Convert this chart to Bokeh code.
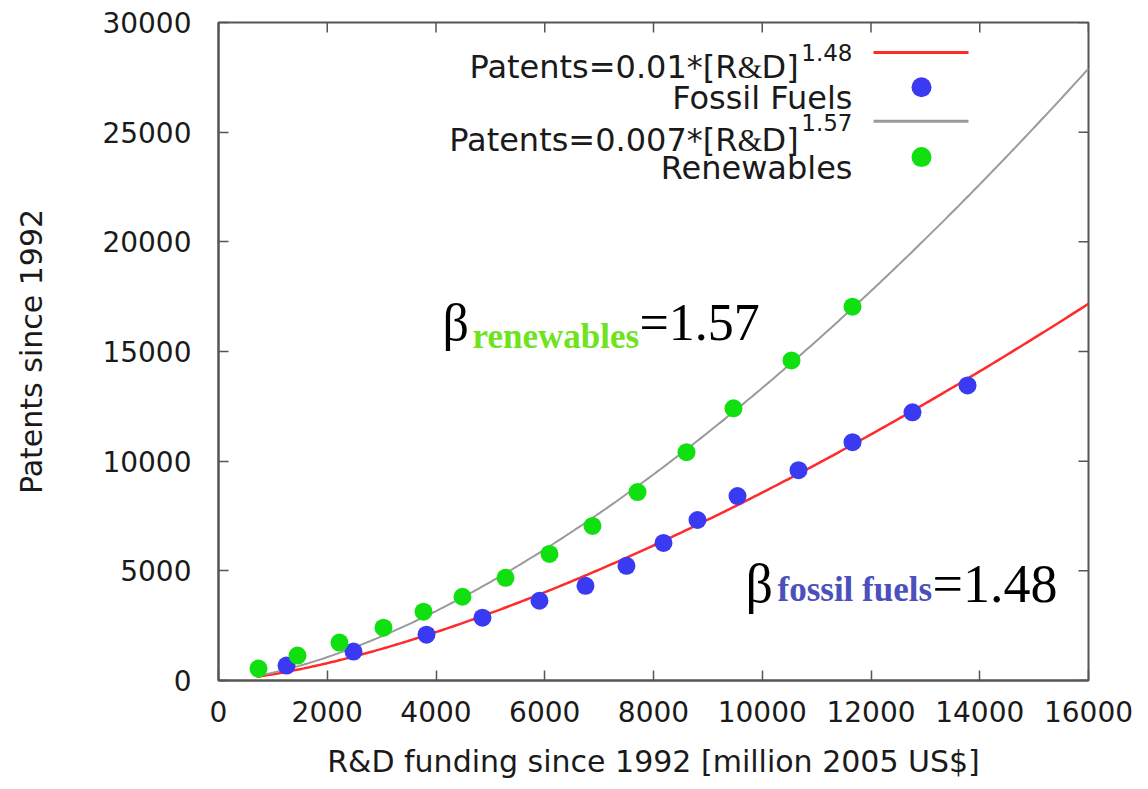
import numpy as np
from bokeh.plotting import figure
from bokeh.models import Range1d, FixedTicker, Label
from bokeh.embed import file_html
from bokeh.resources import INLINE

# ---------------- data ----------------
fossil_x = [1251, 2483, 3825, 4855, 5903, 6749, 7503, 8184, 8809, 9545, 10667, 11660, 12763, 13775]
fossil_y = [682, 1318, 2091, 2864, 3636, 4318, 5227, 6273, 7318, 8409, 9591, 10864, 12227, 13455]
renew_x = [736, 1453, 2225, 3034, 3770, 4487, 5278, 6087, 6878, 7706, 8607, 9471, 10538, 11660]
renew_y = [545, 1136, 1727, 2409, 3136, 3818, 4682, 5773, 7045, 8591, 10409, 12409, 14591, 17045]

# power-law fits (legend shows rounded values): Patents = a * [R&D]^b
fossil_a, fossil_b = 0.0103, 1.48
renew_a, renew_b = 0.007, 1.57
fit_start, fit_end = 700, 16000

x_ticks = [0, 2000, 4000, 6000, 8000, 10000, 12000, 14000, 16000]
y_ticks = [0, 5000, 10000, 15000, 20000, 25000, 30000]
x_min, x_max = 0, 16000
y_min, y_max = 0, 30000

# ---------------- layout helpers (picture pixels -> data) ----------------
W, H = 1140, 781
FL, FR, FT, FB = 218, 1088, 22, 682   # frame edges in the picture


def X(px):
    return x_min + (px - FL) / (FR - FL) * (x_max - x_min)


def Y(py):
    return y_min + (FB - py) / (FB - FT) * (y_max - y_min)


p = figure(width=W, height=H,
           x_range=Range1d(x_min, x_max), y_range=Range1d(y_min, y_max),
           output_backend="svg", toolbar_location=None,
           min_border_left=FL, min_border_right=W - FR,
           min_border_top=FT, min_border_bottom=H - FB)
p.grid.visible = False
frame_col = "#555555"
p.outline_line_color = frame_col
p.outline_line_width = 2
p.background_fill_color = "white"
p.border_fill_color = "white"

for ax in p.axis:
    ax.axis_line_color = frame_col
    ax.axis_line_width = 2
    ax.major_tick_line_color = frame_col
    ax.major_tick_line_width = 1.5
    ax.major_tick_in = 10
    ax.major_tick_out = 0
    ax.minor_tick_line_color = None
    ax.major_label_text_font = "DejaVu Sans"
    ax.major_label_text_font_size = "28px"
    ax.major_label_text_color = "#1a1a1a"
    ax.axis_label_text_font = "DejaVu Sans"
    ax.axis_label_text_font_size = "30px"
    ax.axis_label_text_font_style = "normal"
    ax.axis_label_text_color = "#1a1a1a"

p.xaxis.ticker = FixedTicker(ticks=x_ticks)
p.yaxis.ticker = FixedTicker(ticks=y_ticks)

p.xaxis.major_label_standoff = 20
p.xaxis.axis_label = "R&D funding since 1992 [million 2005 US$]"
p.xaxis.axis_label_standoff = 19

p.yaxis.major_label_standoff = 27
p.yaxis.axis_label = "Patents since 1992"
p.yaxis.axis_label_standoff = 50

# mirror ticks on the top and right frame edges
tick_len_x = 10 / (FR - FL) * (x_max - x_min)
tick_len_y = 10 / (FB - FT) * (y_max - y_min)
p.segment(x0=x_ticks, y0=[y_max] * len(x_ticks), x1=x_ticks, y1=[y_max - tick_len_y] * len(x_ticks),
          line_color=frame_col, line_width=1.5)
p.segment(x0=[x_max] * len(y_ticks), y0=y_ticks, x1=[x_max - tick_len_x] * len(y_ticks), y1=y_ticks,
          line_color=frame_col, line_width=1.5)

# ---------------- fit curves ----------------
fx = np.linspace(fit_start, fit_end, 300)
red = "#ff2a2a"
grey = "#9a9a9a"
p.line(fx, fossil_a * fx ** fossil_b, line_color=red, line_width=2.5)
p.line(fx, renew_a * fx ** renew_b, line_color=grey, line_width=2)

# ---------------- data points ----------------
blue = "#3a3af2"
green = "#10e010"
p.scatter(fossil_x, fossil_y, size=18, fill_color=blue, line_color=None)
p.scatter(renew_x, renew_y, size=18, fill_color=green, line_color=None)


def lab(text, px, py, size, font="DejaVu Sans", color="#1a1a1a", align="left", style="normal"):
    p.add_layout(Label(x=X(px), y=Y(py), text=text, text_font=font,
                       text_font_size=f"{size}px", text_color=color,
                       text_align=align, text_baseline="alphabetic",
                       text_font_style=style))


# ---------------- legend (manual, gnuplot style) ----------------
lg = 32
lab("Patents=0.01*[R", 737, 67, lg, align="right")
lab("&", 737, 67, lg, font="Liberation Serif")
lab("D]", 761, 67, lg)
lab("1.48", 852, 52, 23, align="right")
p.line([X(873), X(968)], [Y(52), Y(52)], line_color=red, line_width=3)

lab("Fossil Fuels", 852, 98, lg, align="right")
p.scatter([X(921)], [Y(87)], size=20, fill_color=blue, line_color=None)

lab("Patents=0.007*[R", 737, 140, lg, align="right")
lab("&", 737, 140, lg, font="Liberation Serif")
lab("D]", 761, 140, lg)
lab("1.57", 852, 122, 23, align="right")
p.line([X(873), X(968)], [Y(121), Y(121)], line_color=grey, line_width=3)

lab("Renewables", 852, 168, lg, align="right")
p.scatter([X(921)], [Y(157)], size=20, fill_color=green, line_color=None)

# ---------------- beta annotations ----------------
lab("\u03b2", 442, 323, 52, font="Liberation Serif", color="#000000")
lab("renewables", 472, 337, 35, font="Liberation Serif", color="#6ee31e", style="bold")
lab("=1.57", 639, 323, 52, font="Liberation Serif", color="#000000")

lab("\u03b2", 745, 585, 54, font="Liberation Serif", color="#000000")
lab("fossil fuels", 777, 591, 35, font="Liberation Serif", color="#4b50bd", style="bold")
lab("=1.48", 932, 585, 54, font="Liberation Serif", color="#000000")

open("out.html", "w").write(file_html(p, INLINE))
